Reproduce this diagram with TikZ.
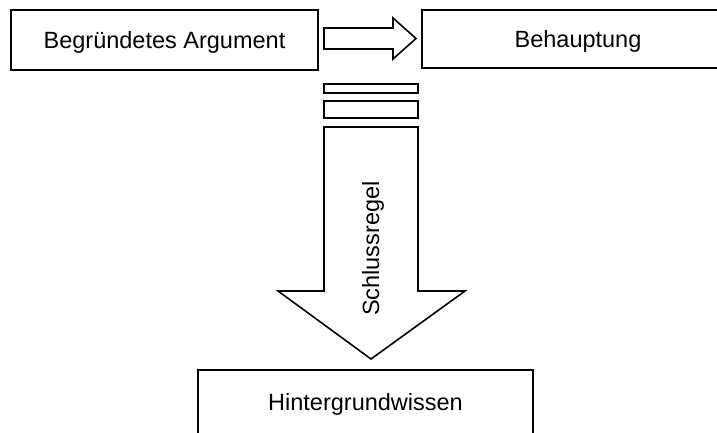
\documentclass[tikz,border=0pt]{standalone}
\usepackage{fontspec}
\setmainfont{Liberation Sans}
\begin{document}
\begin{tikzpicture}[x=1pt, y=-1pt, line width=1.6pt,
  txt/.style={font=\fontsize{23.5}{28}\selectfont},
  box/.style={draw, rectangle, inner sep=0pt, txt, text height=16.8pt, text depth=0pt},
  bar/.style={draw, rectangle, inner sep=0pt, minimum width=94pt},
  blockarrow/.style={draw, fill=white, line join=miter}]
  \clip (0,0) rectangle (717,432);

  % premise, claim and background knowledge
  \node[box, minimum width=307pt, minimum height=60pt] (arg) at (164.5,40) {Begründetes Argument};
  \node[box, minimum width=312pt, minimum height=58pt] (claim) at (578,39) {Behauptung};
  \node[box, minimum width=335pt, minimum height=64pt] (know) at (365.5,402) {Hintergrundwissen};

  % horizontal block arrow from argument to claim
  \draw[blockarrow] (324,28) -- (393,28) -- (393,18) -- (416,38.5)
    -- (393,59) -- (393,49) -- (324,49) -- cycle;

  % stacked bars above the inference arrow
  \node[bar, minimum height=9pt] (bar1) at (371,88.5) {};
  \node[bar, minimum height=17pt] (bar2) at (371,109.5) {};

  % vertical block arrow carrying the warrant
  \draw[blockarrow] (324,127) -- (418,127) -- (418,291) -- (465,291)
    -- (371,359) -- (278,291) -- (324,291) -- cycle;
  \node[txt, rotate=90, anchor=base, inner sep=0pt] (rule) at (379,248.5) {Schlussregel};
\end{tikzpicture}
\end{document}
